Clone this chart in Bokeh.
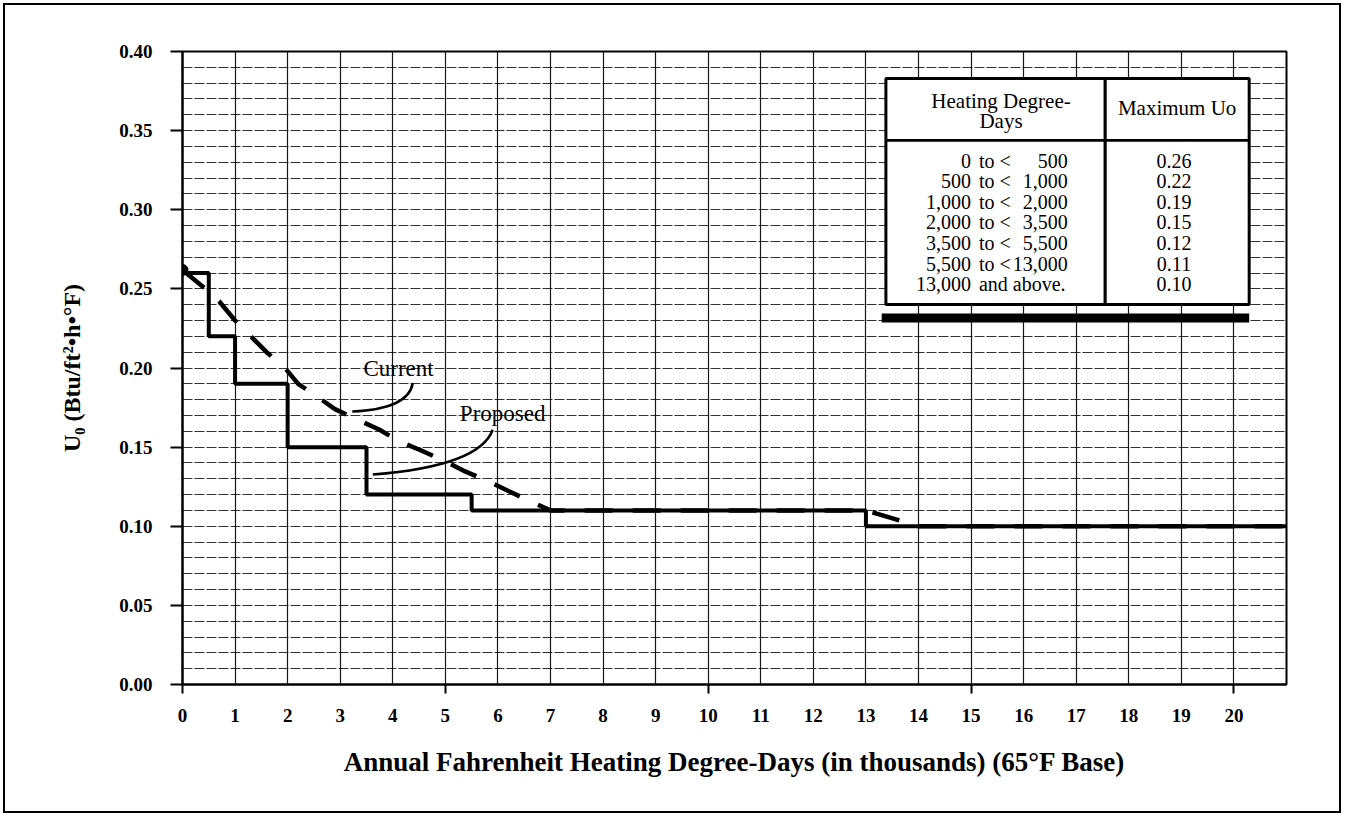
from bokeh.plotting import figure
from bokeh.models import (Range1d, FixedTicker, BoxAnnotation, Label)
from bokeh.embed import file_html
from bokeh.resources import INLINE

# ---------------- data ----------------
# Proposed criteria (solid step line): Uo holds from each break to the next
proposed_hdd = [0, 0.5, 1, 2, 3.5, 5.5, 13, 21]
proposed_uo = [0.26, 0.22, 0.19, 0.15, 0.12, 0.11, 0.10, 0.10]

# Current criteria (dashed curve)
current_hdd = [0, 0.4, 0.7, 1.0, 1.3, 1.6, 1.95, 2.2, 2.6, 2.9, 3.35, 3.75, 4.1,
               4.53, 4.97, 5.35, 5.78, 6.18, 6.6, 7.0, 13.0, 14.0, 21.0]
current_uo = [0.262, 0.251, 0.242, 0.230, 0.220, 0.210, 0.200, 0.190, 0.181, 0.174,
              0.167, 0.161, 0.154, 0.148, 0.1415, 0.135, 0.129, 0.1226, 0.116,
              0.110, 0.110, 0.100, 0.100]

x_tick_values = list(range(0, 21))
x_major_marks = [0, 5, 10, 15, 20]
x_grid_values = list(range(0, 22))
y_tick_values = [0.00, 0.05, 0.10, 0.15, 0.20, 0.25, 0.30, 0.35, 0.40]
y_tick_labels = ["0.00", "0.05", "0.10", "0.15", "0.20", "0.25", "0.30", "0.35", "0.40"]
y_grid_values = [i / 100 for i in range(0, 41)]

table_header_left = ["Heating Degree-", "Days"]
table_header_right = "Maximum Uo"
table_low = ["0", "500", "1,000", "2,000", "3,500", "5,500", "13,000"]
table_mid = ["to <", "to <", "to <", "to <", "to <", "to <", "and  above."]
table_high = ["500", "1,000", "2,000", "3,500", "5,500", "13,000", ""]
table_uo = ["0.26", "0.22", "0.19", "0.15", "0.12", "0.11", "0.10"]

# ---------------- figure ----------------
SERIF = "Liberation Serif"
W, H = 1344, 816

p = figure(width=W, height=H, output_backend="svg", toolbar_location=None,
           x_range=Range1d(0, 21), y_range=Range1d(0, 0.40),
           min_border_left=182, min_border_right=58, min_border_top=51,
           min_border_bottom=132)
p.outline_line_color = "black"
p.outline_line_width = 2
p.background_fill_color = "white"
p.border_fill_alpha = 0.0
# page border around the whole picture
p.styles = {"outline": "2px solid black", "outline-offset": "-5px",
            "background-color": "white"}

# grid
p.xgrid.ticker = FixedTicker(ticks=x_grid_values)
p.ygrid.ticker = FixedTicker(ticks=y_grid_values)
p.xgrid.grid_line_color = "black"
p.xgrid.grid_line_alpha = 0.9
p.xgrid.grid_line_width = 1.2
p.ygrid.grid_line_color = "black"
p.ygrid.grid_line_alpha = 0.8
p.ygrid.grid_line_width = 1
p.ygrid.grid_line_dash = "10 2"

# x axis
xa = p.xaxis[0]
xa.ticker = FixedTicker(ticks=x_tick_values, minor_ticks=x_major_marks)
xa.major_tick_out = 0
xa.major_tick_in = 0
xa.minor_tick_out = 9
xa.minor_tick_in = 0
xa.minor_tick_line_color = "black"
xa.minor_tick_line_width = 2
xa.axis_line_color = "black"
xa.axis_line_width = 2
xa.major_label_standoff = 15
xa.major_label_text_font = SERIF
xa.major_label_text_font_style = "bold"
xa.major_label_text_font_size = "19px"
xa.major_label_text_color = "black"
xa.axis_label = "Annual Fahrenheit Heating Degree-Days (in thousands) (65°F Base)"
xa.axis_label_text_font = SERIF
xa.axis_label_text_font_style = "bold"
xa.axis_label_text_font_size = "27px"
xa.axis_label_text_color = "black"
xa.axis_label_standoff = 22

# y axis
ya = p.yaxis[0]
ya.ticker = FixedTicker(ticks=y_tick_values)
ya.major_label_overrides = {v: s for v, s in zip(y_tick_values, y_tick_labels)}
ya.major_tick_out = 12
ya.major_tick_in = 0
ya.major_tick_line_color = "black"
ya.major_tick_line_width = 2
ya.minor_tick_out = 0
ya.minor_tick_in = 0
ya.axis_line_color = "black"
ya.axis_line_width = 2
ya.major_label_standoff = 18
ya.major_label_text_font = SERIF
ya.major_label_text_font_style = "bold"
ya.major_label_text_font_size = "19px"
ya.major_label_text_color = "black"
ya.axis_label = "U\u2080 (Btu/ft\u00b2\u2022h\u2022\u00b0F)"
ya.axis_label_text_font = SERIF
ya.axis_label_text_font_style = "bold"
ya.axis_label_text_font_size = "24px"
ya.axis_label_text_color = "black"
ya.axis_label_standoff = 31

# series
p.line(current_hdd, current_uo, line_color="black", line_width=4.5, line_dash="28 20")
p.step(proposed_hdd, proposed_uo, mode="after", line_color="black", line_width=4)
p.scatter([current_hdd[0]], [current_uo[0]], size=11, color="black")

# pointer labels
p.add_layout(Label(x=4.11, y=0.1997, text="Current", text_font=SERIF,
                   text_font_size="23px", text_align="center",
                   text_baseline="middle", text_color="black"))
p.add_layout(Label(x=6.09, y=0.1712, text="Proposed", text_font=SERIF,
                   text_font_size="23px", text_align="center",
                   text_baseline="middle", text_color="black"))
p.quadratic(x0=[4.38], y0=[0.1905], x1=[3.23], y1=[0.1725], cx=[4.30], cy=[0.174],
            line_color="black", line_width=2.5)
p.quadratic(x0=[5.90], y0=[0.161], x1=[3.62], y1=[0.1327], cx=[5.65], cy=[0.138],
            line_color="black", line_width=2.5)

# ---------------- table ----------------
T_LEFT, T_RIGHT, T_TOP, T_BOTTOM = 13.38, 20.29, 0.3829, 0.2401
T_DIV_X, T_HEAD_Y = 17.55, 0.3438
p.add_layout(BoxAnnotation(left=T_LEFT, right=T_RIGHT, top=T_TOP, bottom=T_BOTTOM,
                           fill_color="white", fill_alpha=1.0,
                           line_color="black", line_alpha=1.0, line_width=3,
                           level="overlay"))
p.add_layout(BoxAnnotation(left=13.30, right=T_RIGHT, top=0.2344, bottom=0.2288,
                           fill_color="black", fill_alpha=1.0, line_alpha=0,
                           level="overlay"))
p.add_layout(BoxAnnotation(left=T_DIV_X - 0.03, right=T_DIV_X + 0.03, top=T_TOP,
                           bottom=T_BOTTOM, fill_color="black", fill_alpha=1.0,
                           line_alpha=0, level="overlay"))
p.add_layout(BoxAnnotation(left=T_LEFT, right=T_RIGHT, top=T_HEAD_Y + 0.0009,
                           bottom=T_HEAD_Y - 0.0009, fill_color="black",
                           fill_alpha=1.0, line_alpha=0, level="overlay"))

def tlabel(x, y, text, align, size="20px"):
    lab = Label(x=x, y=y, text=text, text_font=SERIF, text_font_size=size,
                text_align=align, text_baseline="middle", text_color="black",
                level="overlay")
    p.add_layout(lab)

tlabel(15.57, 0.369, table_header_left[0], "center", "21px")
tlabel(15.57, 0.3562, table_header_left[1], "center", "21px")
tlabel(18.92, 0.3646, table_header_right, "center", "21px")

row_top, row_step = 0.3311, 0.01305
for i in range(len(table_low)):
    ry = row_top - i * row_step
    tlabel(15.0, ry, table_low[i], "right")
    tlabel(15.15, ry, table_mid[i], "left")
    if table_high[i]:
        tlabel(16.84, ry, table_high[i], "right")
    tlabel(18.86, ry, table_uo[i], "center")

open("out.html", "w").write(file_html(p, INLINE))
